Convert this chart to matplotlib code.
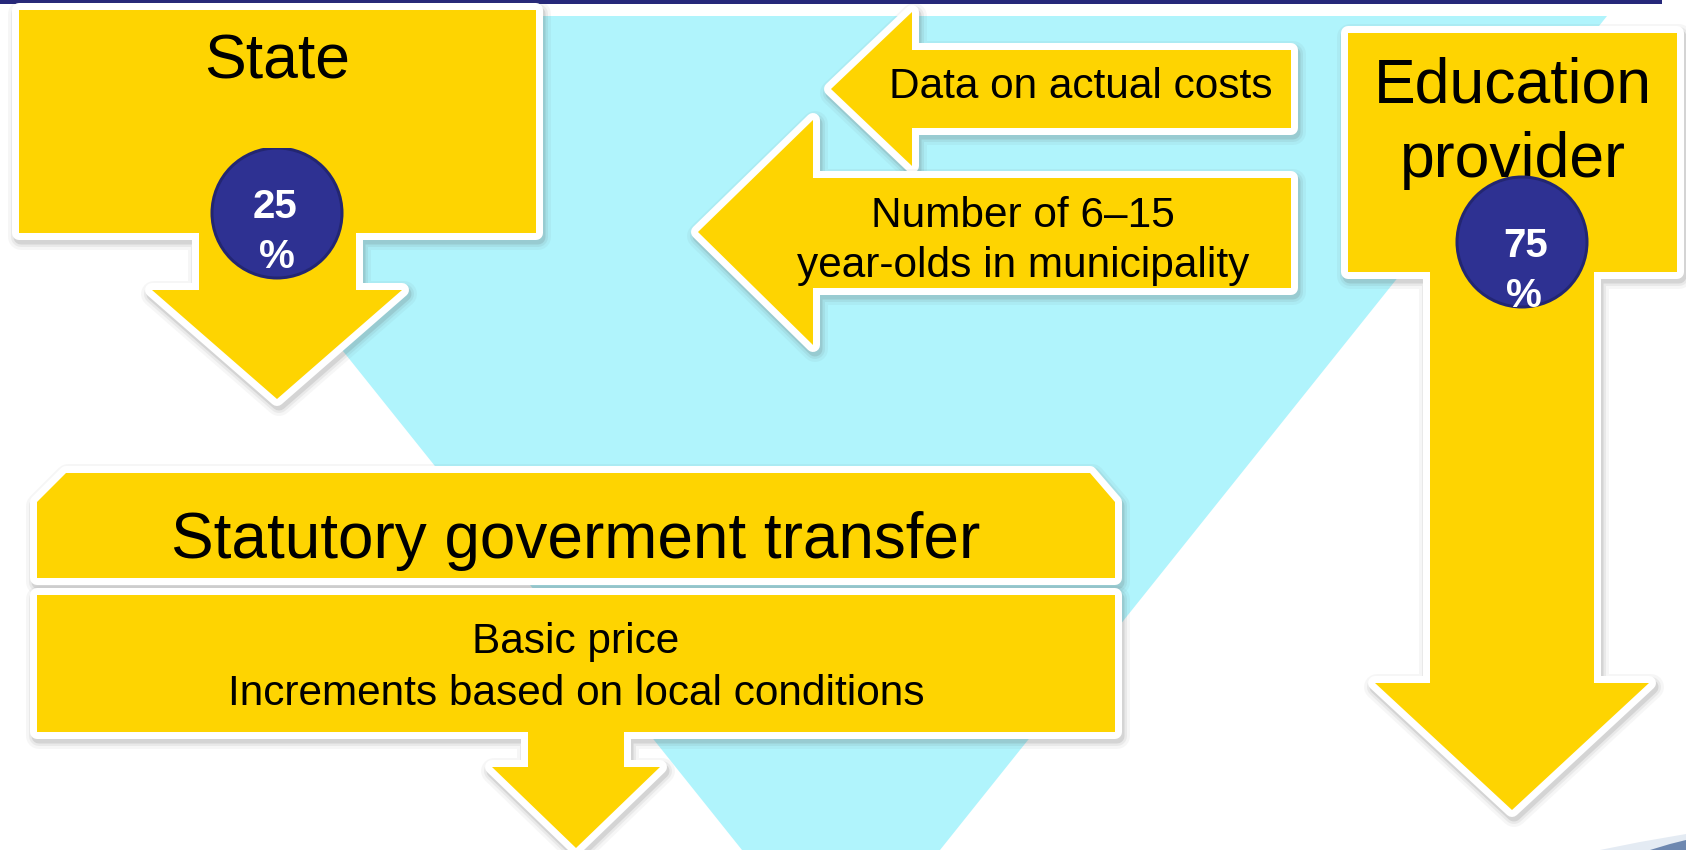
import matplotlib
matplotlib.use("Agg")
import matplotlib.pyplot as plt
from matplotlib.patches import Polygon, Circle, Rectangle

# ---- content ----
source_labels = ["State", "Education\nprovider"]
shares = [25, 75]
input_labels = ["Data on actual costs", "Number of 6–15\nyear-olds in municipality"]
transfer_title = "Statutory goverment transfer"
transfer_items = ["Basic price", "Increments based on local conditions"]

# ---- style ----
YELLOW = "#FED401"
CYAN = "#B0F4FC"
NAVY = "#2E3192"
NAVY_EDGE = "#232671"
FONT = ["Liberation Sans", "DejaVu Sans"]

W, H = 1686, 850
fig = plt.figure(figsize=(W / 100, H / 100), dpi=100)
ax = fig.add_axes([0, 0, 1, 1])
ax.set_xlim(0, W)
ax.set_ylim(H, 0)
ax.axis("off")

PX = 0.72  # points per pixel


def shape(pts, z, border=7):
    # soft shadow
    for lw, a in [(26, 0.05), (20, 0.08), (15, 0.14)]:
        sh = [(x + 2, y + 4) for x, y in pts]
        ax.add_patch(Polygon(sh, closed=True, facecolor="#555555", edgecolor="#555555",
                             lw=lw * PX, alpha=a, joinstyle="round", zorder=z))
    ax.add_patch(Polygon(pts, closed=True, facecolor="white", edgecolor="white",
                         lw=2 * border * PX, joinstyle="round", zorder=z + 0.1))
    ax.add_patch(Polygon(pts, closed=True, facecolor=YELLOW, edgecolor="none", zorder=z + 0.2))


# background inverted triangle (cyan)
ax.add_patch(Polygon([(75, 16), (1607, 16), (940, 850), (742, 850)], closed=True,
                     facecolor=CYAN, edgecolor="none", zorder=1))
# top navy rule
ax.add_patch(Rectangle((0, 0), 1662, 3.5, facecolor="#26287A", edgecolor="none", zorder=1))

# bottom-right swoosh
ax.add_patch(Polygon([(1600, 850), (1640, 842), (1686, 834), (1686, 850)], closed=True,
                     facecolor="#E4EBF3", edgecolor="none", zorder=1))
ax.add_patch(Polygon([(1650, 850), (1670, 844), (1686, 840), (1686, 850)], closed=True,
                     facecolor="#6E88B0", edgecolor="none", zorder=1.1))

# ---- State arrow ----
shape([(19, 10), (536, 10), (536, 233), (356, 233), (356, 290), (402, 290), (277, 399),
       (152, 290), (199, 290), (199, 233), (19, 233)], 2)
ax.text(277, 78, source_labels[0], ha="center", va="baseline", fontsize=45,
        family=FONT, color="black", zorder=5)

c1 = Circle((277, 213), 65, facecolor=NAVY, edgecolor=NAVY_EDGE, lw=3 * PX, zorder=4)
ax.add_patch(c1)
clip1 = Rectangle((200, 148), 160, 140, transform=ax.transData)
c1.set_clip_path(clip1)
ax.text(275, 218, f"{shares[0]}", ha="center", va="baseline", fontsize=29,
        fontweight="bold", family=FONT, color="white", zorder=5)
ax.text(277, 268, "%", ha="center", va="baseline", fontsize=29,
        fontweight="bold", family=FONT, color="white", zorder=5)

# ---- Data arrow ----
shape([(1291, 50), (1291, 128), (912, 128), (912, 166), (831, 89), (912, 12), (912, 50)], 6)
ax.text(1081, 98, input_labels[0], ha="center", va="baseline", fontsize=30.5,
        family=FONT, color="black", zorder=7)

# ---- Number arrow ----
shape([(1291, 178), (1291, 288), (813, 288), (813, 345), (698, 232), (813, 120),
       (813, 178)], 8)
l1, l2 = input_labels[1].split("\n")
ax.text(1023, 227, l1, ha="center", va="baseline", fontsize=30.5,
        family=FONT, color="black", zorder=9)
ax.text(1023, 277, l2, ha="center", va="baseline", fontsize=30.5,
        family=FONT, color="black", zorder=9)

# ---- Education provider arrow ----
shape([(1348, 33), (1677, 33), (1677, 272), (1594, 272), (1594, 683), (1649, 683),
       (1512, 810), (1375, 683), (1430, 683), (1430, 272), (1348, 272)], 10)
e1, e2 = source_labels[1].split("\n")
ax.text(1513, 102, e1, ha="center", va="baseline", fontsize=45,
        family=FONT, color="black", zorder=11)
ax.text(1513, 177, e2, ha="center", va="baseline", fontsize=45,
        family=FONT, color="black", zorder=11)
c2 = Circle((1522, 242), 65, facecolor=NAVY, edgecolor=NAVY_EDGE, lw=3 * PX, zorder=12)
ax.add_patch(c2)
t1 = ax.text(1526, 257, f"{shares[1]}", ha="center", va="baseline", fontsize=29,
             fontweight="bold", family=FONT, color="white", zorder=13)
t2 = ax.text(1524, 307, "%", ha="center", va="baseline", fontsize=29,
             fontweight="bold", family=FONT, color="white", zorder=13)
clipc = Circle((1522, 242), 64, transform=ax.transData)
t2.set_clip_path(clipc)

# ---- Statutory government transfer ----
shape([(37, 578), (37, 502), (66, 473), (1090, 473), (1115, 502), (1115, 578)], 14)
ax.text(576, 558, transfer_title, ha="center", va="baseline", fontsize=46,
        family=FONT, color="black", zorder=15)
shape([(37, 595), (1115, 595), (1115, 732), (624, 732), (624, 767), (660, 767),
       (576, 848), (492, 767), (528, 767), (528, 732), (37, 732)], 16)
ax.text(576, 653, transfer_items[0], ha="center", va="baseline", fontsize=30.5,
        family=FONT, color="black", zorder=17)
ax.text(576, 705, transfer_items[1], ha="center", va="baseline", fontsize=30.5,
        family=FONT, color="black", zorder=17)

fig.savefig("out.png", dpi=100)
